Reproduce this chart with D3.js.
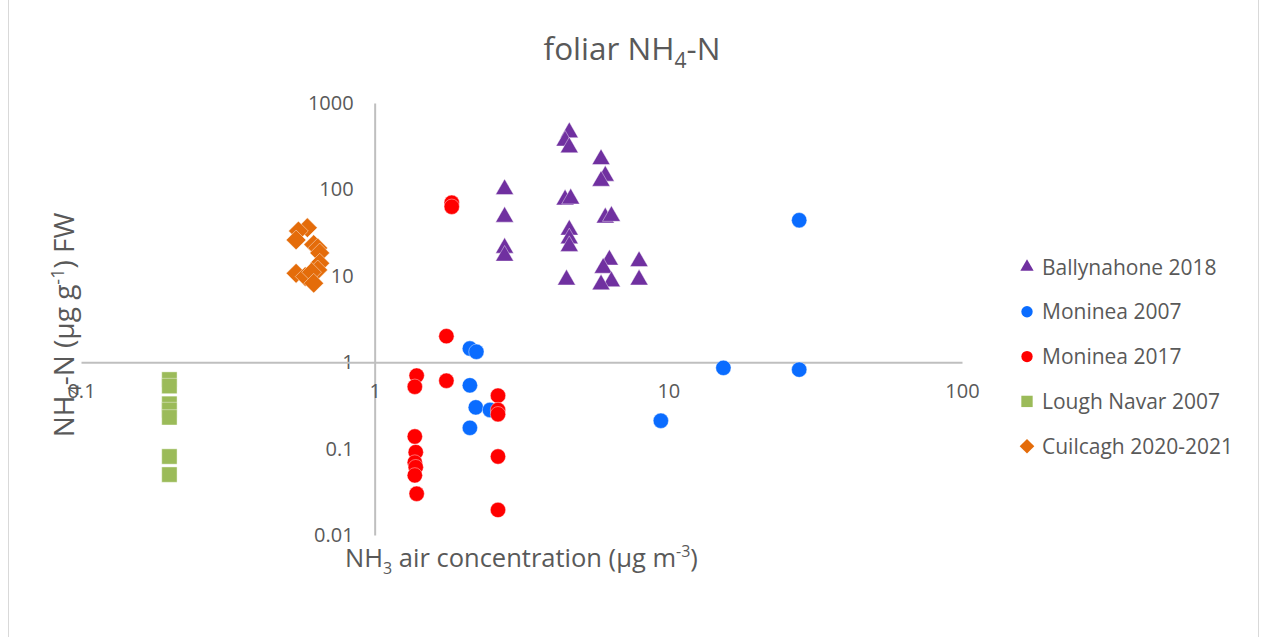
<!DOCTYPE html>
<html>
<head>
<meta charset="utf-8">
<script src="https://cdn.jsdelivr.net/npm/d3@7"></script>
<style>
  html, body { margin: 0; padding: 0; background: #fff; }
  svg { display: block; font-family: "Open Sans", Lato, sans-serif; }
</style>
</head>
<body>
<svg id="chart" width="1261" height="637"></svg>
<script>
// ---- data (x: NH3 air concentration, y: foliar NH4-N) ----
const seriesNames = ["Ballynahone 2018", "Moninea 2007", "Moninea 2017", "Lough Navar 2007", "Cuilcagh 2020-2021"];
const seriesColors = ["#7030A0", "#0A6CFF", "#FF0000", "#9BBB59", "#E46C0A"];
const seriesShapes = ["triangle", "circle", "circle", "square", "diamond"];

const ballynahoneX = [2.77, 2.77, 2.77, 2.77, 4.6, 4.45, 4.6, 4.45, 4.65, 4.6, 4.6, 4.6, 4.5, 5.9, 6.1, 5.9, 6.1, 6.4, 6.3, 6.0, 6.4, 5.9, 7.95, 7.95];
const ballynahoneY = [100, 48, 21, 17, 456, 365, 305, 76, 78, 34, 27, 22, 9.0, 223, 143, 125, 47, 49, 15.3, 12.3, 8.6, 7.9, 14.7, 9.0];

const moninea2007X = [2.11, 2.22, 2.11, 2.21, 2.47, 2.11, 27.9, 15.4, 27.9, 9.43];
const moninea2007Y = [1.44, 1.32, 0.54, 0.30, 0.28, 0.174, 44, 0.86, 0.82, 0.21];

const moninea2017X = [1.83, 1.83, 1.755, 1.39, 1.37, 1.755, 2.63, 2.63, 2.63, 1.37, 1.38, 1.37, 1.38, 1.37, 1.39, 2.63, 2.63];
const moninea2017Y = [70, 63, 2.0, 0.70, 0.52, 0.61, 0.41, 0.28, 0.25, 0.138, 0.091, 0.069, 0.061, 0.049, 0.030, 0.081, 0.0195];

const loughNavarX = [0.2, 0.2, 0.2, 0.2, 0.2, 0.2, 0.2];
const loughNavarY = [0.63, 0.53, 0.33, 0.28, 0.23, 0.081, 0.05];

const cuilcaghX = [0.59, 0.55, 0.54, 0.62, 0.64, 0.65, 0.65, 0.64, 0.54, 0.58, 0.61, 0.62];
const cuilcaghY = [36, 33, 26, 23, 21, 18.4, 14, 11.7, 10.7, 9.8, 11, 8.2];

const xTicks = [0.1, 1, 10, 100];
const yTicks = [0.01, 0.1, 1, 10, 100, 1000];

const seriesX = [ballynahoneX, moninea2007X, moninea2017X, loughNavarX, cuilcaghX];
const seriesY = [ballynahoneY, moninea2007Y, moninea2017Y, loughNavarY, cuilcaghY];

// ---- drawing ----
const svg = d3.select("#chart");
const textColor = "#595959";
const axisColor = "#BFBFBF";

// outer frame
svg.append("rect").attr("x", 8.5).attr("y", -2).attr("width", 1250).attr("height", 641)
  .attr("fill", "none").attr("stroke", "#D9D9D9").attr("stroke-width", 1);

const x = d3.scaleLog().domain([0.1, 100]).range([81, 962]);
const y = d3.scaleLog().domain([0.01, 1000]).range([535, 103]);

// title
const title = svg.append("text").attr("x", 632).attr("y", 60).attr("text-anchor", "middle")
  .attr("fill", textColor).style("font-size", "31.5px");
title.append("tspan").text("foliar NH");
title.append("tspan").attr("dy", 8).style("font-size", "21px").text("4");
title.append("tspan").attr("dy", -8).text("-N");

// y axis (vertical line at x = 1)
const yAxis = d3.axisLeft(y).tickValues(yTicks).tickSize(0).tickPadding(21)
  .tickFormat(d => d3.format("~g")(d));
const gy = svg.append("g").attr("transform", `translate(${x(1)},0)`).call(yAxis);
gy.select(".domain").attr("stroke", axisColor).attr("stroke-width", 2);
gy.selectAll("text").attr("fill", textColor).style("font-size", "20px").style("font-family", "'Open Sans', sans-serif");

// x axis (horizontal line at y = 1)
const xAxis = d3.axisBottom(x).tickValues(xTicks).tickSize(0).tickPadding(22)
  .tickFormat(d => d3.format("~g")(d));
const gx = svg.append("g").attr("transform", `translate(0,${y(1)})`).call(xAxis);
gx.select(".domain").attr("stroke", axisColor).attr("stroke-width", 2);
gx.selectAll("text").attr("fill", textColor).style("font-size", "20px").style("font-family", "'Open Sans', sans-serif");

// axis titles
const xt = svg.append("text").attr("x", 345).attr("y", 567).attr("fill", textColor).style("font-size", "25.5px");
xt.append("tspan").text("NH");
xt.append("tspan").attr("dy", 7).style("font-size", "16px").text("3");
xt.append("tspan").attr("dy", -7).text(" air concentration (μg m");
xt.append("tspan").attr("dy", -10).style("font-size", "16px").text("-3");
xt.append("tspan").attr("dy", 10).text(")");

const yt = svg.append("text").attr("transform", "translate(74,325) rotate(-90)")
  .attr("text-anchor", "middle").attr("fill", textColor).style("font-size", "28px");
yt.append("tspan").text("NH");
yt.append("tspan").attr("dy", 7).style("font-size", "18px").text("4");
yt.append("tspan").attr("dy", -7).text("-N (μg g");
yt.append("tspan").attr("dy", -10).style("font-size", "18px").text("-1");
yt.append("tspan").attr("dy", 10).text(") FW");

// symbol helper
function symbolPath(shape, scale) {
  const s = scale || 1;
  if (shape === "triangle") return d3.symbol(d3.symbolTriangle, 140 * s * s)();
  if (shape === "circle") return d3.symbol(d3.symbolCircle, 185 * s * s)();
  if (shape === "square") return d3.symbol(d3.symbolSquare, 235 * s * s)();
  if (shape === "diamond") return d3.symbol(d3.symbolSquare, 195 * s * s)();
  return d3.symbol(d3.symbolCircle, 100)();
}

// series
seriesNames.forEach((name, i) => {
  const pts = seriesX[i].map((xv, j) => [xv, seriesY[i][j]]);
  const g = svg.append("g").attr("class", "series");
  g.selectAll("path").data(pts).join("path")
    .attr("d", symbolPath(seriesShapes[i]))
    .attr("transform", d => `translate(${x(d[0])},${y(d[1])})` + (seriesShapes[i] === "diamond" ? " rotate(45)" : ""))
    .attr("fill", seriesColors[i])
    .attr("stroke", "#fff").attr("stroke-width", 0.6).attr("stroke-opacity", 0.7);
});

// legend
const legend = svg.append("g");
seriesNames.forEach((name, i) => {
  const cy = 267 + i * 44.8;
  legend.append("path")
    .attr("d", symbolPath(seriesShapes[i], 0.74))
    .attr("transform", `translate(1027,${cy})` + (seriesShapes[i] === "diamond" ? " rotate(45)" : ""))
    .attr("fill", seriesColors[i]);
  legend.append("text").attr("x", 1042).attr("y", cy).attr("dy", "0.36em")
    .attr("fill", textColor).style("font-size", "21px").text(name);
});
</script>
</body>
</html>
